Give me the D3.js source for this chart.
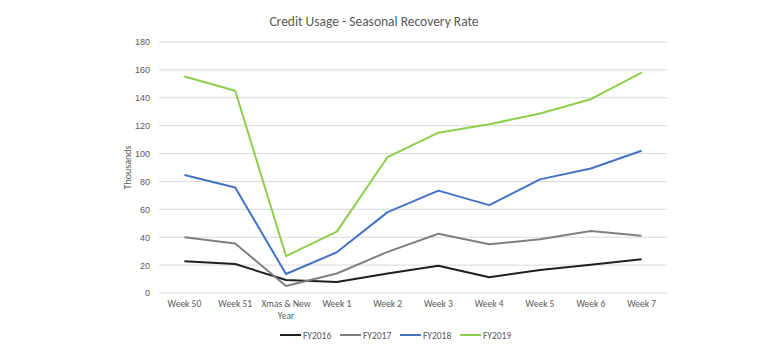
<!DOCTYPE html>
<html>
<head>
<meta charset="utf-8">
<script src="https://cdn.jsdelivr.net/npm/d3@7"></script>
<style>
html,body{margin:0;padding:0;background:#fff;}
svg{display:block;font-family:Carlito,"Open Sans","Liberation Sans",sans-serif;}
</style>
</head>
<body>
<svg id="chart" width="760" height="355"></svg>
<script>
const categories = ["Week 50","Week 51","Xmas & New Year","Week 1","Week 2","Week 3","Week 4","Week 5","Week 6","Week 7"];
const fy2016 = [22.7, 20.8, 9.3, 7.9, 14, 19.5, 11.3, 16.5, 20.2, 24.2];
const fy2017 = [40, 35.5, 5, 14, 29.5, 42.5, 35, 38.5, 44.5, 41];
const fy2018 = [84.6, 75.6, 13.6, 29.2, 58, 73.4, 63, 81.5, 89.3, 102];
const fy2019 = [155.2, 145, 26.5, 44, 97.5, 115, 121, 128.7, 139, 158];
const seriesNames = ["FY2016","FY2017","FY2018","FY2019"];
const seriesColors = ["#1f1f1f","#808080","#4472c4","#8dcf4a"];
const yTicks = [0,20,40,60,80,100,120,140,160,180];

(function(){
const seriesData = [fy2016, fy2017, fy2018, fy2019];
const svg = d3.select("#chart");
const pL = 159, pR = 667, pT = 42, pB = 293;

const x = d3.scaleBand().domain(categories).range([pL, pR]);
const y = d3.scaleLinear().domain([0,180]).range([pB, pT]);

svg.append("text").attr("x", 374).attr("y", 26).attr("text-anchor","middle")
  .attr("font-size", 13.5).attr("fill", "#595959").text("Credit Usage - Seasonal Recovery Rate");

svg.append("g").selectAll("line").data(yTicks).join("line")
  .attr("x1", pL).attr("x2", pR)
  .attr("y1", d => y(d)).attr("y2", d => y(d))
  .attr("stroke", "#d9d9d9").attr("stroke-width", 1);

const yAxis = d3.axisLeft(y).tickValues(yTicks).tickSize(0).tickPadding(9);
const gy = svg.append("g").attr("transform", `translate(${pL},0)`).call(yAxis);
gy.select(".domain").remove();
gy.selectAll("text").attr("font-size", 9).attr("fill", "#595959").attr("font-family", "inherit");

svg.append("text").attr("transform", `translate(131,${(pT+pB)/2}) rotate(-90)`)
  .attr("text-anchor","middle").attr("font-size", 10).attr("fill","#595959").text("Thousands");

const xg = svg.append("g");
categories.forEach(c => {
  const cx = x(c) + x.bandwidth()/2;
  const t = xg.append("text").attr("x", cx).attr("y", 307).attr("text-anchor","middle")
    .attr("font-size", 9.5).attr("fill","#595959");
  if (c === "Xmas & New Year") {
    t.append("tspan").attr("x", cx).attr("dy", 0).text("Xmas & New");
    t.append("tspan").attr("x", cx).attr("dy", 12).text("Year");
  } else t.text(c);
});

const line = d3.line().x((d,i) => x(categories[i]) + x.bandwidth()/2).y(d => y(d));
seriesData.forEach((s, i) => {
  svg.append("path").datum(s).attr("d", line).attr("fill","none")
    .attr("stroke", seriesColors[i]).attr("stroke-width", 2).attr("stroke-linejoin","round");
});

const legX = [280, 340, 400, 460];
seriesNames.forEach((n, i) => {
  svg.append("line").attr("x1", legX[i]).attr("x2", legX[i]+21).attr("y1", 335).attr("y2", 335)
    .attr("stroke", seriesColors[i]).attr("stroke-width", 2);
  svg.append("text").attr("x", legX[i]+23).attr("y", 338.5).attr("font-size", 9.5)
    .attr("fill","#595959").text(n);
});
})();
</script>
</body>
</html>
